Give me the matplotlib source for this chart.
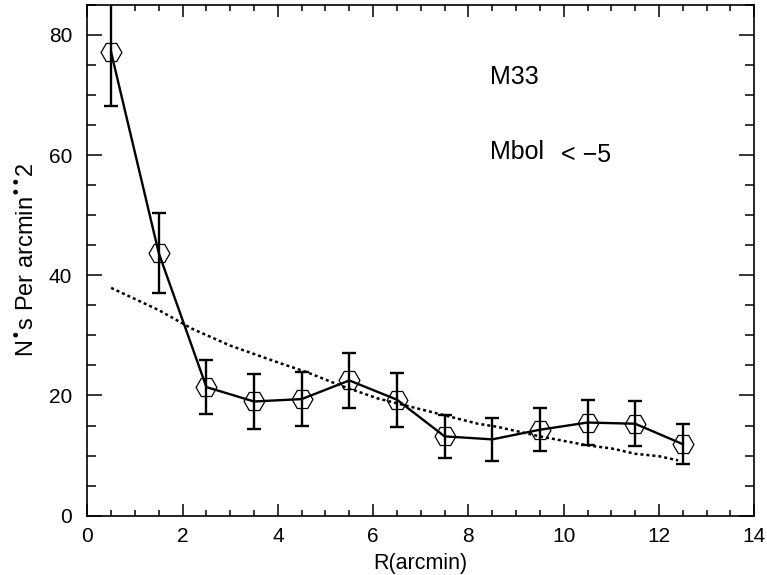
import matplotlib
matplotlib.use("Agg")
import matplotlib.pyplot as plt
from matplotlib.ticker import MultipleLocator

plt.rcParams['font.family'] = ['Liberation Sans', 'DejaVu Sans']
plt.rcParams['mathtext.default'] = 'regular'

# star surface density per radial bin
r = [0.5, 1.5, 2.5, 3.5, 4.5, 5.5, 6.5, 7.5, 8.5, 9.5, 10.5, 11.5, 12.5]
density = [77.1, 43.7, 21.4, 19.0, 19.4, 22.5, 19.3, 13.2, 12.7, 14.3, 15.5, 15.3, 11.9]
err = [9.0, 6.6, 4.5, 4.5, 4.5, 4.6, 4.5, 3.6, 3.6, 3.6, 3.8, 3.7, 3.3]
# bins drawn with a hexagon symbol (8.5 has none)
marked = [True, True, True, True, True, True, True, True, False, True, True, True, True]

# model profile (dotted)
r_model = [0.5, 1.5, 2.2, 3.0, 4.0, 4.6, 5.3, 6.1, 6.8, 7.5, 8.2, 8.6, 9.5, 10.5, 11.0, 11.5, 12.0, 12.4]
model = [37.9, 34.2, 31.1, 28.3, 25.5, 23.9, 21.7, 19.5, 18.1, 16.7, 15.3, 14.8, 13.2, 11.7, 11.2, 10.3, 9.9, 9.2]

fig = plt.figure(figsize=(7.67, 5.75), dpi=100)
ax = fig.add_axes([0.1138, 0.1031, 0.8696, 0.8887])

ax.plot(r_model, model, color='black', linestyle=(0, (1.2, 1.2)), linewidth=1.8)
ax.errorbar(r, density, yerr=err, fmt='none', ecolor='black', elinewidth=1.7,
            capsize=5, capthick=1.7)
ax.plot(r, density, color='black', linewidth=1.7)
ax.plot([x for x, m in zip(r, marked) if m], [y for y, m in zip(density, marked) if m],
        linestyle='none', marker='H', markersize=15, markerfacecolor='none',
        markeredgecolor='black', markeredgewidth=0.9)

ax.set_xlim(0, 14)
ax.set_ylim(0, 85)
ax.xaxis.set_major_locator(MultipleLocator(2))
ax.xaxis.set_minor_locator(MultipleLocator(0.5))
ax.yaxis.set_major_locator(MultipleLocator(20))
ax.yaxis.set_minor_locator(MultipleLocator(5))
ax.tick_params(axis='x', which='both', direction='in', top=True, labelsize=15, pad=8, width=1.1)
ax.tick_params(axis='y', which='both', direction='in', right=True, labelsize=15, pad=11, width=1.1)
ax.tick_params(axis='x', which='major', length=8.6)
ax.tick_params(axis='x', which='minor', length=4.3)
ax.tick_params(axis='y', which='major', length=10.8)
ax.tick_params(axis='y', which='minor', length=6.5)
for s in ax.spines.values():
    s.set_linewidth(1.2)

ax.set_xlabel('R(arcmin)', fontsize=15.5, labelpad=5)
ax.set_ylabel('N$^{\u2022}$s Per arcmin$^{\u2022\u2022}$2', fontsize=17, labelpad=7)

ax.text(8.45, 73.0, 'M33', fontsize=18, ha='left', va='center')
ax.text(8.45, 60.5, 'Mbol', fontsize=18, ha='left', va='center')
ax.text(9.95, 60.0, '< \u22125', fontsize=18, ha='left', va='center')

fig.savefig('out.png', dpi=100)
